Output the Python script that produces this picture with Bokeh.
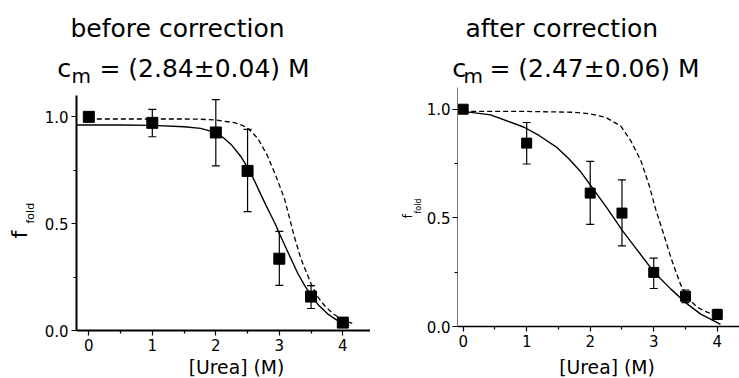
import math
from bokeh.plotting import figure
from bokeh.layouts import row, column
from bokeh.models import ColumnDataSource, Whisker, TeeHead, FixedTicker, Label
from bokeh.embed import file_html
from bokeh.resources import INLINE

# ---------------- data ----------------
x_ticks = [0, 1, 2, 3, 4]
x_minor = [0.5, 1.5, 2.5, 3.5]
y_ticks = [0.0, 0.5, 1.0]
y_minor = [0.25, 0.75]
y_tick_labels = ["0.0", "0.5", "1.0"]

urea = [0, 1, 2, 2.5, 3, 3.5, 4]

# before correction
before_y = [1.0, 0.972, 0.927, 0.747, 0.336, 0.159, 0.037]
before_up = [1.0, 1.035, 1.081, 0.941, 0.464, 0.210, 0.050]
before_lo = [1.0, 0.907, 0.771, 0.556, 0.211, 0.103, 0.025]

before_fit_x = [-0.19, 0.5, 1.0, 1.5, 1.76, 2.0, 2.12, 2.24, 2.4, 2.52, 2.62, 2.71, 2.8, 2.87,
                2.94, 3.01, 3.1, 3.2, 3.29, 3.4, 3.5, 3.62, 3.76, 3.9, 4.02, 4.1]
before_fit_y = [0.962, 0.962, 0.960, 0.954, 0.946, 0.926, 0.902, 0.871, 0.812, 0.754, 0.694,
                0.636, 0.580, 0.538, 0.496, 0.448, 0.390, 0.325, 0.268, 0.210, 0.164, 0.118,
                0.078, 0.050, 0.031, 0.023]

before_ref_x = [0, 0.5, 1.0, 1.5, 1.76, 2.0, 2.29, 2.42, 2.52, 2.66, 2.81, 2.94, 3.08, 3.17,
                3.23, 3.34, 3.5, 3.6, 3.71, 3.84, 3.97, 4.08, 4.18]
before_ref_y = [0.99, 0.99, 0.99, 0.99, 0.989, 0.985, 0.973, 0.960, 0.942, 0.900, 0.820, 0.728,
                0.618, 0.516, 0.446, 0.336, 0.219, 0.160, 0.117, 0.080, 0.055, 0.040, 0.031]

# after correction
after_y = [1.0, 0.844, 0.614, 0.522, 0.249, 0.139, 0.055]
after_up = [1.0, 0.939, 0.760, 0.675, 0.315, 0.168, 0.079]
after_lo = [1.0, 0.748, 0.470, 0.371, 0.175, 0.110, 0.034]

after_fit_x = [0, 0.43, 0.96, 1.2, 1.48, 1.66, 1.84, 2.0, 2.26, 2.51, 2.75, 3.01, 3.27, 3.5,
               3.74, 4.0, 4.05]
after_fit_y = [0.99, 0.974, 0.917, 0.878, 0.823, 0.773, 0.716, 0.652, 0.547, 0.440, 0.348,
               0.248, 0.172, 0.110, 0.057, 0.018, 0.010]

after_ref_x = [0, 0.96, 1.74, 2.01, 2.24, 2.48, 2.64, 2.8, 2.93, 3.03, 3.14, 3.27, 3.42, 3.5,
               3.58, 3.68, 3.79, 3.9, 4.02]
after_ref_y = [0.99, 0.99, 0.986, 0.978, 0.963, 0.923, 0.854, 0.762, 0.647, 0.540, 0.440, 0.317,
               0.195, 0.148, 0.118, 0.090, 0.072, 0.060, 0.050]

FONT = "DejaVu Sans"
W = 739
TOP_H = 87     # title strip
MID_H = 269    # plots row
BOT_H = 22     # x-label strip
NB = "\u00a0"


def blank(width, height):
    p = figure(width=width, height=height, x_range=(0, width), y_range=(0, height),
               output_backend="svg", toolbar_location=None,
               x_axis_location=None, y_axis_location=None, min_border=0)
    p.frame_align = False
    p.outline_line_color = None
    p.grid.visible = False
    p.border_fill_color = "white"
    p.background_fill_color = "white"
    return p


def make_panel(width, xr, yr, borders, ys, ups, los, fit_x, fit_y, ref_x, ref_y,
               msize, axis_styles):
    p = figure(width=width, height=MID_H, x_range=xr, y_range=yr,
               output_backend="svg", toolbar_location=None,
               min_border_left=borders[0], min_border_right=borders[1],
               min_border_top=borders[2], min_border_bottom=borders[3])
    p.frame_align = False
    p.outline_line_color = None
    p.grid.visible = False
    p.background_fill_color = "white"
    p.border_fill_color = "white"

    p.xaxis.ticker = FixedTicker(ticks=x_ticks, minor_ticks=x_minor)
    p.yaxis.ticker = FixedTicker(ticks=y_ticks, minor_ticks=y_minor)
    p.yaxis.major_label_overrides = {t: l for t, l in zip(y_ticks, y_tick_labels)}
    for ax, (lc, lw, stand) in zip([p.xaxis[0], p.yaxis[0]], axis_styles):
        ax.axis_line_color = lc
        ax.axis_line_width = lw
        ax.major_tick_line_color = "black"
        ax.minor_tick_line_color = "black"
        ax.major_tick_line_width = 1.2
        ax.minor_tick_line_width = 1.2
        ax.major_tick_out = 5
        ax.major_tick_in = 0
        ax.minor_tick_out = 3
        ax.minor_tick_in = 0
        ax.major_label_text_font = FONT
        ax.major_label_text_font_size = "15px"
        ax.major_label_text_color = "black"
        ax.major_label_standoff = stand

    src = ColumnDataSource(dict(x=urea, y=ys, upper=ups, lower=los))
    w = Whisker(source=src, base="x", upper="upper", lower="lower",
                line_color="black", line_width=1.2,
                upper_head=TeeHead(size=8, line_color="black", line_width=1.2),
                lower_head=TeeHead(size=8, line_color="black", line_width=1.2))
    p.add_layout(w)
    p.line(ref_x, ref_y, line_color="black", line_width=1.3, line_dash="5 3")
    p.line(fit_x, fit_y, line_color="black", line_width=1.4)
    p.scatter("x", "y", source=src, marker="square", size=msize, color="black")
    return p


def lab(p, x, y, text, size, angle=0.0, align="left"):
    # (x, y): wanted baseline start; compensate the renderer's baseline drop
    off = 0.36 * size
    if angle == 0.0:
        y = y + off
    else:
        x = x - off
    p.add_layout(Label(x=x, y=y, text=text, text_font=FONT, text_font_size=f"{size}px",
                       text_color="black", angle=angle, text_align=align,
                       text_baseline="alphabetic"))


# ---- title strip (page y 0..87); data y = 87 - page_y
T = blank(W, TOP_H)
lab(T, 70, TOP_H - 37, "before correction", 25)
lab(T, 56.7, TOP_H - 77, "c", 25.5)
lab(T, 71, TOP_H - 83, "m", 20)
lab(T, 91, TOP_H - 77, NB + "= (2.84±0.04) M", 25)
lab(T, 465, TOP_H - 37, "after correction", 25)
lab(T, 451.7, TOP_H - 77, "c", 25.5)
lab(T, 463, TOP_H - 83, "m", 20)
lab(T, 481, TOP_H - 77, NB + "= (2.47±0.06) M", 25)

# ---- plots row (page y 87..356); data y = 356 - page_y
ROW_BOTTOM = TOP_H + MID_H
YL1 = blank(40, MID_H)
lab(YL1, 27, ROW_BOTTOM - 238, "f", 22, angle=math.pi / 2)
lab(YL1, 34, ROW_BOTTOM - 223, "fold", 11, angle=math.pi / 2)

# left panel: page x 40..370, frame x 76..370, y 95..330
p1 = make_panel(330, (-0.194, 4.436), (0, 1.1), (36, 0, 8, 26),
                before_y, before_up, before_lo, before_fit_x, before_fit_y,
                before_ref_x, before_ref_y, 11,
                [("black", 2, 3), ("black", 2, 3)])

YL2 = blank(53, MID_H)
lab(YL2, 412 - 370, ROW_BOTTOM - 218, "f", 13, angle=math.pi / 2)
lab(YL2, 421 - 370, ROW_BOTTOM - 213, "fold", 8, angle=math.pi / 2)

# right panel: page x 423..739, frame x 456..739, y 87..326
p2 = make_panel(316, (-0.089, 4.35), (0, 1.1), (33, 0, 0, 30),
                after_y, after_up, after_lo, after_fit_x, after_fit_y,
                after_ref_x, after_ref_y, 10,
                [("black", 1.3, 3), ("#777777", 1, 2)])

# ---- x-label strip (page y 356..378); data y = 378 - page_y
B = blank(W, BOT_H)
lab(B, 236, 378 - 373.4, "[Urea] (M)", 18.8, align="center")
lab(B, 606.5, 378 - 373.4, "[Urea] (M)", 18.8, align="center")

layout = column(T, row(YL1, p1, YL2, p2), B)
open("out.html", "w").write(file_html(layout, INLINE))
